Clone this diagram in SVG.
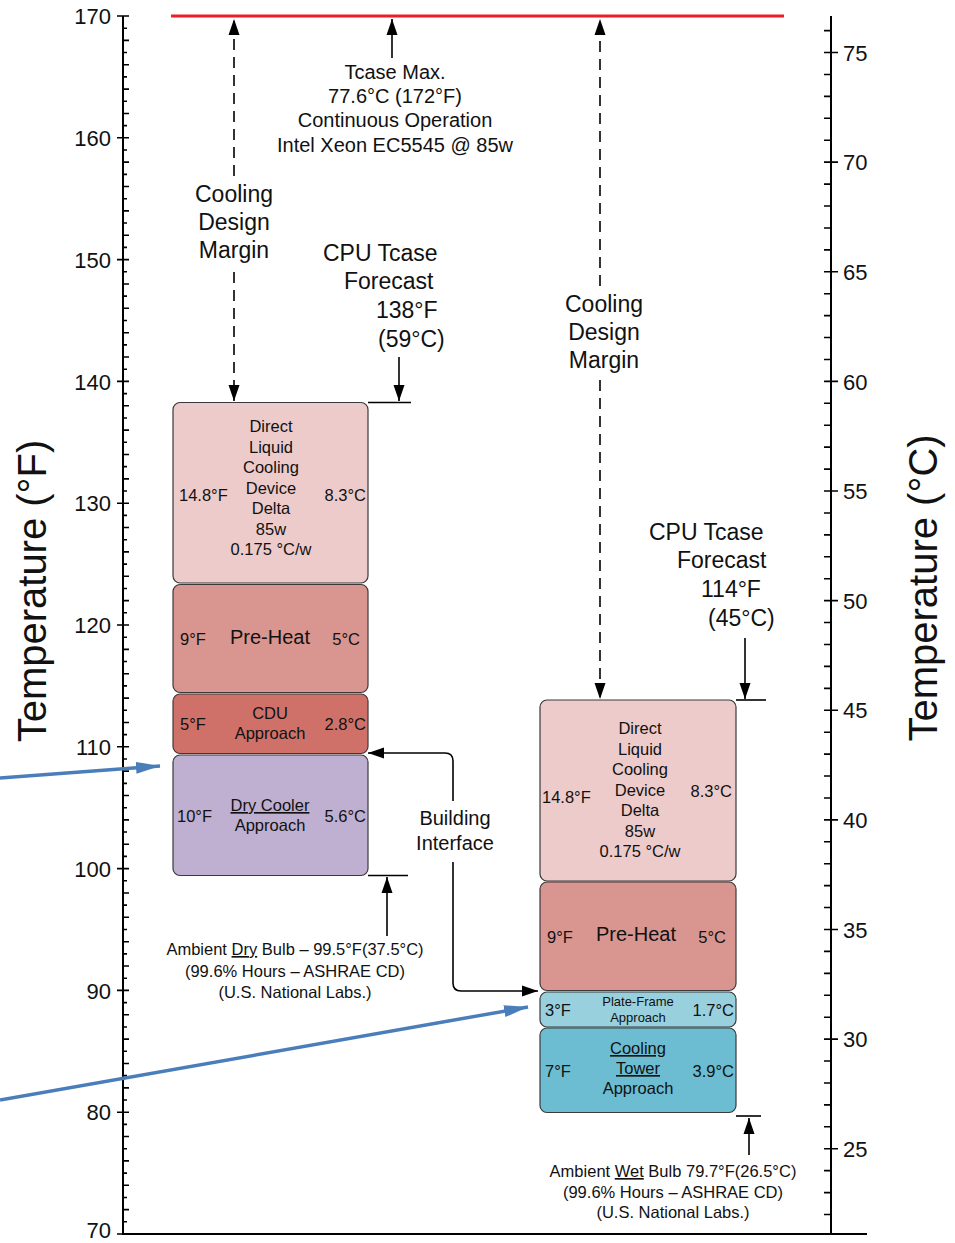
<svg xmlns="http://www.w3.org/2000/svg" width="955" height="1243" viewBox="0 0 955 1243">
<style>
text{font-family:"Liberation Sans",Arial,sans-serif;fill:#111}
.ax{stroke:#000;stroke-width:2;fill:none}
.tk{stroke:#000;stroke-width:1.6;fill:none}
.lbl{font-size:22px}
.ttl{font-size:40px}
.box{stroke:#3a3a3a;stroke-width:1.2}
.t16{font-size:16.5px}
.t13{font-size:13px}
.t20{font-size:20px}
.t23{font-size:23px}
.mid{text-anchor:middle}
.end{text-anchor:end}
.u{text-decoration:underline}
.dash{stroke:#000;stroke-width:1.6;fill:none;stroke-dasharray:11 7}
.sol{stroke:#000;stroke-width:1.6;fill:none}
.blue{stroke:#4a7ebb;stroke-width:3.5;fill:none}
</style>
<defs>
<marker id="ah" markerUnits="userSpaceOnUse" markerWidth="18" markerHeight="12" refX="16" refY="6" orient="auto-start-reverse" viewBox="0 0 18 12">
<path d="M0,0.5 L16,6 L0,11.5 z" fill="#000"/>
</marker>
<marker id="bh" markerUnits="userSpaceOnUse" markerWidth="26" markerHeight="14" refX="24" refY="7" orient="auto" viewBox="0 0 26 14">
<path d="M0,1 L24,7 L0,13 z" fill="#4a7ebb"/>
</marker>
</defs>

<g id="left-axis">
<path class="ax" d="M123,16 V1234 H867"/>
<path class="tk" d="M117,16 H129 M117,137.8 H129 M117,259.6 H129 M117,381.4 H129 M117,503.2 H129 M117,625 H129 M117,746.8 H129 M117,868.6 H129 M117,990.4 H129 M117,1112.2 H129 M117,1234 H123"/>
<path class="tk" d="M123,28.18h4 M123,40.36h6 M123,52.54h4 M123,64.72h6 M123,76.9h4 M123,89.08h6 M123,101.26h4 M123,113.44h6 M123,125.62h4
M123,149.98h4 M123,162.16h6 M123,174.34h4 M123,186.52h6 M123,198.7h4 M123,210.88h6 M123,223.06h4 M123,235.24h6 M123,247.42h4
M123,271.78h4 M123,283.96h6 M123,296.14h4 M123,308.32h6 M123,320.5h4 M123,332.68h6 M123,344.86h4 M123,357.04h6 M123,369.22h4
M123,393.58h4 M123,405.76h6 M123,417.94h4 M123,430.12h6 M123,442.3h4 M123,454.48h6 M123,466.66h4 M123,478.84h6 M123,491.02h4
M123,515.38h4 M123,527.56h6 M123,539.74h4 M123,551.92h6 M123,564.1h4 M123,576.28h6 M123,588.46h4 M123,600.64h6 M123,612.82h4
M123,637.18h4 M123,649.36h6 M123,661.54h4 M123,673.72h6 M123,685.9h4 M123,698.08h6 M123,710.26h4 M123,722.44h6 M123,734.62h4
M123,758.98h4 M123,771.16h6 M123,783.34h4 M123,795.52h6 M123,807.7h4 M123,819.88h6 M123,832.06h4 M123,844.24h6 M123,856.42h4
M123,880.78h4 M123,892.96h6 M123,905.14h4 M123,917.32h6 M123,929.5h4 M123,941.68h6 M123,953.86h4 M123,966.04h6 M123,978.22h4
M123,1002.58h4 M123,1014.76h6 M123,1026.94h4 M123,1039.12h6 M123,1051.3h4 M123,1063.48h6 M123,1075.66h4 M123,1087.84h6 M123,1100.02h4
M123,1124.38h4 M123,1136.56h6 M123,1148.74h4 M123,1160.92h6 M123,1173.1h4 M123,1185.28h6 M123,1197.46h4 M123,1209.64h6 M123,1221.82h4"/>
<g class="lbl end">
<text x="111" y="24">170</text>
<text x="111" y="146">160</text>
<text x="111" y="267.5">150</text>
<text x="111" y="389.5">140</text>
<text x="111" y="511">130</text>
<text x="111" y="633">120</text>
<text x="111" y="755">110</text>
<text x="111" y="876.5">100</text>
<text x="111" y="998.5">90</text>
<text x="111" y="1120">80</text>
<text x="111" y="1238">70</text>
</g>
<text class="ttl mid" transform="translate(46,591) rotate(-90)">Temperature (°F)</text>
</g>

<g id="right-axis">
<path class="ax" d="M831,16 V1234"/>
<path class="tk" d="M824,52.54H838 M824,162.16H838 M824,271.78H838 M824,381.4H838 M824,491.02H838 M824,600.64H838 M824,710.26H838 M824,819.88H838 M824,929.5H838 M824,1039.12H838 M824,1148.74H838"/>
<path class="tk" d="M824,30.62h7 M824,74.47h7 M824,96.39h7 M824,118.31h7 M824,140.24h7 M824,184.08h7 M824,206.01h7 M824,227.93h7 M824,249.86h7
M824,293.7h7 M824,315.63h7 M824,337.55h7 M824,359.48h7 M824,403.32h7 M824,425.25h7 M824,447.17h7 M824,469.09h7
M824,512.94h7 M824,534.87h7 M824,556.79h7 M824,578.71h7 M824,622.56h7 M824,644.49h7 M824,666.41h7 M824,688.33h7
M824,732.18h7 M824,754.11h7 M824,776.03h7 M824,797.95h7 M824,841.8h7 M824,863.73h7 M824,885.65h7 M824,907.57h7
M824,951.42h7 M824,973.35h7 M824,995.27h7 M824,1017.19h7 M824,1061.04h7 M824,1082.96h7 M824,1104.89h7 M824,1126.81h7
M824,1170.66h7 M824,1192.59h7 M824,1214.51h7"/>
<g class="lbl">
<text x="843" y="60.5">75</text>
<text x="843" y="170">70</text>
<text x="843" y="280">65</text>
<text x="843" y="389.5">60</text>
<text x="843" y="499">55</text>
<text x="843" y="608.5">50</text>
<text x="843" y="718">45</text>
<text x="843" y="828">40</text>
<text x="843" y="937.5">35</text>
<text x="843" y="1047">30</text>
<text x="843" y="1156.5">25</text>
</g>
<text class="ttl mid" transform="translate(937,588) rotate(-90)">Temperature (°C)</text>
</g>

<g id="tcase-max-line">
<path d="M171,16 H784" stroke="#ee1c24" stroke-width="3.2" fill="none"/>
</g>

<g id="left-dlc-box">
<rect class="box" x="173" y="402.5" width="195" height="180.5" rx="7" fill="#edcbcb"/>
<g class="t16">
<text class="mid" x="271" y="432">Direct</text>
<text class="mid" x="271" y="452.5">Liquid</text>
<text class="mid" x="271" y="473">Cooling</text>
<text class="mid" x="271" y="493.5">Device</text>
<text class="mid" x="271" y="514">Delta</text>
<text class="mid" x="271" y="534.5">85w</text>
<text class="mid" x="271" y="555">0.175 °C/w</text>
<text x="179" y="501">14.8°F</text>
<text class="end" x="366" y="501">8.3°C</text>
</g>
</g>

<g id="left-preheat-box">
<rect class="box" x="173" y="584.5" width="195" height="108" rx="7" fill="#d9958f"/>
<text class="t20 mid" x="270" y="644">Pre-Heat</text>
<text class="t16" x="180" y="645">9°F</text>
<text class="t16 end" x="360" y="645">5°C</text>
</g>

<g id="left-cdu-box">
<rect class="box" x="173" y="694" width="195" height="59.5" rx="7" fill="#cf7169"/>
<g class="t16">
<text class="mid" x="270" y="719">CDU</text>
<text class="mid" x="270" y="739">Approach</text>
<text x="180" y="730">5°F</text>
<text class="end" x="366" y="730">2.8°C</text>
</g>
</g>

<g id="left-drycooler-box">
<rect class="box" x="173" y="755" width="195" height="120.5" rx="7" fill="#bfafd0"/>
<g class="t16">
<text class="mid u" x="270" y="811">Dry Cooler</text>
<text class="mid" x="270" y="831">Approach</text>
<text x="177" y="821.5">10°F</text>
<text class="end" x="366" y="821.5">5.6°C</text>
</g>
</g>

<g id="right-dlc-box">
<rect class="box" x="540" y="700" width="196" height="181" rx="7" fill="#edcbcb"/>
<g class="t16">
<text class="mid" x="640" y="734">Direct</text>
<text class="mid" x="640" y="754.5">Liquid</text>
<text class="mid" x="640" y="775">Cooling</text>
<text class="mid" x="640" y="795.5">Device</text>
<text class="mid" x="640" y="816">Delta</text>
<text class="mid" x="640" y="836.5">85w</text>
<text class="mid" x="640" y="857">0.175 °C/w</text>
<text x="542" y="802.5">14.8°F</text>
<text class="end" x="732" y="797">8.3°C</text>
</g>
</g>

<g id="right-preheat-box">
<rect class="box" x="540" y="882" width="196" height="108.5" rx="7" fill="#d9958f"/>
<text class="t20 mid" x="636" y="941">Pre-Heat</text>
<text class="t16" x="547" y="943">9°F</text>
<text class="t16 end" x="726" y="943">5°C</text>
</g>

<g id="right-plateframe-box">
<rect class="box" x="540" y="992" width="196" height="35" rx="7" fill="#98d0de"/>
<text class="t13 mid" x="638" y="1006">Plate-Frame</text>
<text class="t13 mid" x="638" y="1022">Approach</text>
<text class="t16" x="545" y="1016">3°F</text>
<text class="t16 end" x="734" y="1016">1.7°C</text>
</g>

<g id="right-coolingtower-box">
<rect class="box" x="540" y="1028" width="196" height="84.5" rx="7" fill="#6cbdd1"/>
<g class="t16">
<text class="mid u" x="638" y="1054">Cooling</text>
<text class="mid u" x="638" y="1074">Tower</text>
<text class="mid" x="638" y="1094">Approach</text>
<text x="545" y="1077">7°F</text>
<text class="end" x="734" y="1077">3.9°C</text>
</g>
</g>

<g id="labels">
<g class="t20 mid">
<text x="395" y="79">Tcase Max.</text>
<text x="395" y="103">77.6°C (172°F)</text>
<text x="395" y="127">Continuous Operation</text>
<text x="395" y="152">Intel Xeon EC5545 @ 85w</text>
</g>
<g class="t23 mid">
<text x="234" y="202">Cooling</text>
<text x="234" y="230">Design</text>
<text x="234" y="258">Margin</text>
<text x="604" y="312">Cooling</text>
<text x="604" y="340">Design</text>
<text x="604" y="368">Margin</text>
</g>
<g class="t23">
<text x="323" y="261">CPU Tcase</text>
<text x="344" y="289">Forecast</text>
<text x="376" y="318">138°F</text>
<text x="378" y="347">(59°C)</text>
<text x="649" y="540">CPU Tcase</text>
<text x="677" y="568">Forecast</text>
<text x="701" y="597">114°F</text>
<text x="708" y="626">(45°C)</text>
</g>
<g class="t20 mid">
<text x="455" y="825">Building</text>
<text x="455" y="850">Interface</text>
</g>
<g class="t16 mid">
<text x="295" y="955">Ambient <tspan class="u">Dry</tspan> Bulb – 99.5°F(37.5°C)</text>
<text x="295" y="977">(99.6% Hours – ASHRAE CD)</text>
<text x="295" y="998">(U.S. National Labs.)</text>
<text x="673" y="1177">Ambient <tspan class="u">Wet</tspan> Bulb 79.7°F(26.5°C)</text>
<text x="673" y="1198">(99.6% Hours – ASHRAE CD)</text>
<text x="673" y="1218">(U.S. National Labs.)</text>
</g>
</g>

<g id="connectors">
<path class="dash" d="M234,176 V19" marker-end="url(#ah)"/>
<path class="dash" d="M234,272 V401" marker-end="url(#ah)"/>
<path class="dash" d="M600,286 V19" marker-end="url(#ah)"/>
<path class="dash" d="M600,380 V699" marker-end="url(#ah)"/>
<path class="sol" d="M392,58 V19" marker-end="url(#ah)"/>
<path class="sol" d="M399,357 V401" marker-end="url(#ah)"/>
<path class="sol" d="M368,402.5 H411"/>
<path class="sol" d="M745,638 V699" marker-end="url(#ah)"/>
<path class="sol" d="M736,700 H766"/>
<path class="sol" d="M387,936 V877" marker-end="url(#ah)"/>
<path class="sol" d="M368,875.5 H408"/>
<path class="sol" d="M749,1155 V1118" marker-end="url(#ah)"/>
<path class="sol" d="M736,1116 H761"/>
<path class="sol" d="M453,801 V761 Q453,753 445,753 H368" marker-end="url(#ah)"/>
<path class="sol" d="M453,862 V983 Q453,991 461,991 H538" marker-end="url(#ah)"/>
<path class="blue" d="M0,778 L160,766" marker-end="url(#bh)"/>
<path class="blue" d="M0,1100 L528,1007" marker-end="url(#bh)"/>
</g>
</svg>
